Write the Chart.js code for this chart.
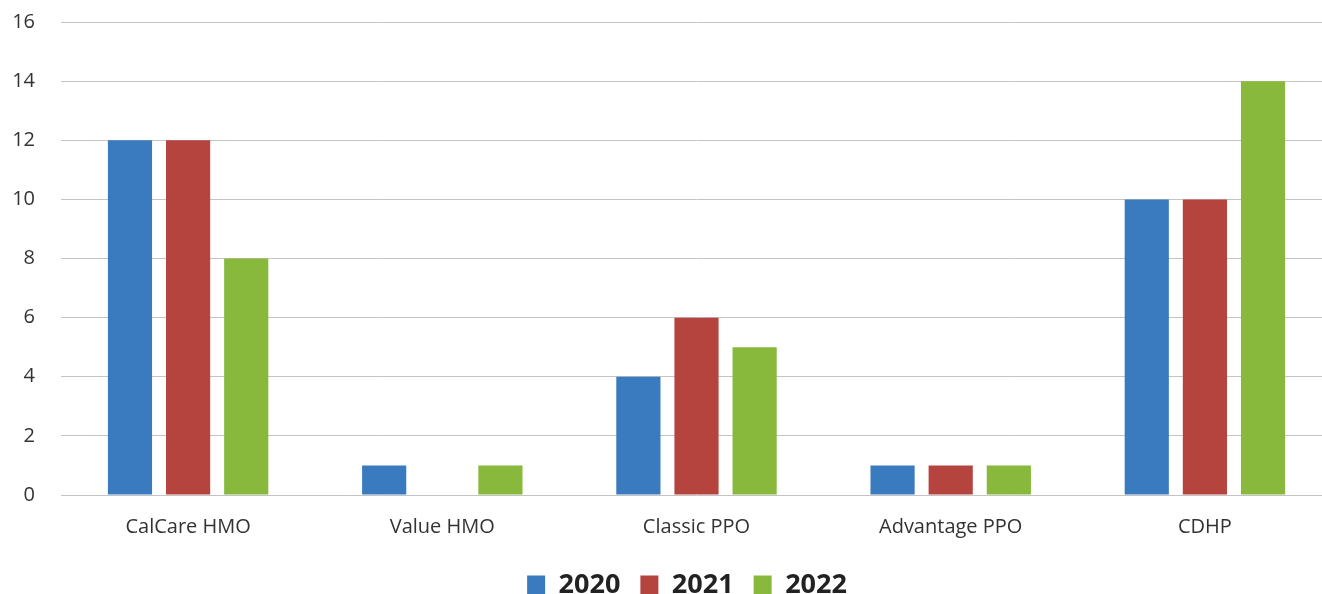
<!DOCTYPE html>
<html>
<head>
<meta charset="utf-8">
<script src="https://cdn.jsdelivr.net/npm/chart.js@4"></script>
<style>
  html, body { margin: 0; padding: 0; background: #fff; overflow: hidden; }
  #frame { width: 1322px; height: 594px; overflow: hidden; }
  /* plot runs a little past the right edge, like the cropped original */
  #wrap { width: 1332px; height: 594px; }
</style>
</head>
<body>
<div id="frame"><div id="wrap"><canvas id="planChart"></canvas></div></div>
<script>
// plan names along the x axis
const plans = ['CalCare HMO', 'Value HMO', 'Classic PPO', 'Advantage PPO', 'CDHP'];
// one list of counts per year
const y2020 = [12, 1, 4, 1, 10];
const y2021 = [12, 0, 6, 1, 10];
const y2022 = [8, 1, 5, 1, 14];
const years = ['2020', '2021', '2022'];
const yTicks = [0, 2, 4, 6, 8, 10, 12, 14, 16];

const colors = ['#3a7bbf', '#b5443e', '#88b83c'];
const font = "'Open Sans', sans-serif";

// nudges the legend right so it sits under the middle of the plot
const legendShift = {
    id: 'legendShift',
    afterLayout(chart) {
        chart.legend.left += 21;
        chart.legend.right += 21;
    }
};

document.addEventListener('DOMContentLoaded', () => {
    const ctx = document.getElementById('planChart').getContext('2d');
    new Chart(ctx, {
        type: 'bar',
        data: {
            labels: plans,
            datasets: [y2020, y2021, y2022].map((vals, i) => ({
                label: years[i],
                data: vals,
                backgroundColor: colors[i],
                categoryPercentage: 0.686,
                barPercentage: 0.76
            }))
        },
        plugins: [legendShift],
        options: {
            responsive: true,
            maintainAspectRatio: false,
            animation: false,
            layout: { padding: { top: 22, right: 0, bottom: -15, left: 0 } },
            plugins: {
                tooltip: { enabled: false },
                legend: {
                    position: 'bottom',
                    labels: {
                        font: { family: font, size: 27, weight: 'bold' },
                        color: '#222',
                        boxWidth: 18,
                        boxHeight: 20,
                        padding: 20
                    }
                }
            },
            scales: {
                x: {
                    grid: { display: false },
                    border: { display: false },
                    ticks: {
                        font: { family: font, size: 20 },
                        color: '#333',
                        padding: 12
                    },
                    afterFit: (scale) => { scale.height = 57; }
                },
                y: {
                    min: yTicks[0],
                    max: yTicks[yTicks.length - 1],
                    afterBuildTicks: (scale) => { scale.ticks = yTicks.map(v => ({ value: v })); },
                    grid: { color: '#c4c4c4', drawTicks: false },
                    border: { display: false },
                    ticks: {
                        font: { family: font, size: 20 },
                        color: '#333',
                        padding: 26
                    },
                    afterFit: (scale) => {
                        scale.width = 61;
                        // the tick padding should not push the plot down
                        scale.paddingTop = 0;
                        scale.paddingBottom = 0;
                    }
                }
            }
        }
    });
});
</script>
</body>
</html>
